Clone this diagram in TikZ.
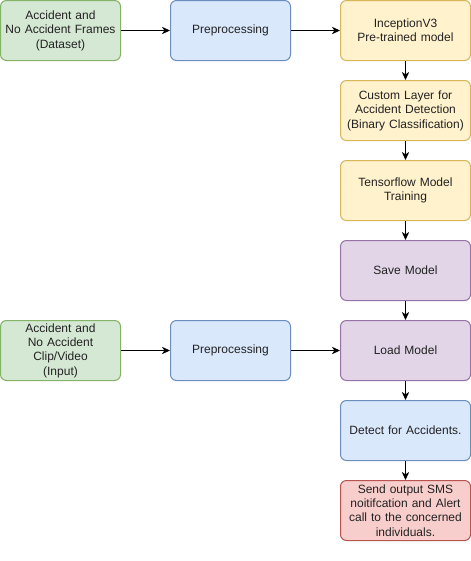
\documentclass[tikz,border=0pt]{standalone}
\usepackage{fontspec}
\setmainfont{Liberation Sans}
\usetikzlibrary{arrows.meta}
\definecolor{gfill}{HTML}{D5E8D4}\definecolor{gline}{HTML}{82B366}
\definecolor{bfill}{HTML}{DAE8FC}\definecolor{bline}{HTML}{6C8EBF}
\definecolor{yfill}{HTML}{FFF2CC}\definecolor{yline}{HTML}{D6B656}
\definecolor{pfill}{HTML}{E1D5E7}\definecolor{pline}{HTML}{9673A6}
\definecolor{rfill}{HTML}{F8CECC}\definecolor{rline}{HTML}{B85450}
\definecolor{txt}{HTML}{222222}
\tikzset{
  box/.style={draw, rounded corners=4.5pt, line width=0.75pt, align=center, text=txt,
    font=\fontsize{9}{10.8}\selectfont, minimum height=45pt, inner sep=1pt},
  lbox/.style={box, minimum width=90pt, text width=88pt},
  rbox/.style={box, minimum width=97.5pt, text width=95pt},
  green/.style={fill=gfill, draw=gline},
  blue/.style={fill=bfill, draw=bline},
  yellow/.style={fill=yfill, draw=yline},
  purple/.style={fill=pfill, draw=pline},
  red/.style={fill=rfill, draw=rline},
  arr/.style={-{Stealth[length=6pt,width=5.5pt,inset=1.8pt]}, line width=0.75pt}
}
\begin{document}
\begin{tikzpicture}[x=0.75pt,y=-0.75pt]
\useasboundingbox (0,0) rectangle (471,561);
\node[lbox,green] (d1) at (60.5,30.5) {Accident and\\No Accident Frames\\(Dataset)};
\node[lbox,blue] (p1) at (230.5,30.5) {Preprocessing};
\node[rbox,yellow] (inc) at (405.5,30.5) {InceptionV3\\Pre-trained model};
\node[rbox,yellow] (cus) at (405.5,110.5) {Custom Layer for\\Accident Detection\\(Binary Classification)};
\node[rbox,yellow] (tf) at (405.5,190.5) {Tensorflow Model\\Training};
\node[rbox,purple] (save) at (405.5,270.5) {Save Model};
\node[lbox,green] (d2) at (60.5,350.5) {Accident and\\No Accident\\Clip/Video\\(Input)};
\node[lbox,blue] (p2) at (230.5,350.5) {Preprocessing};
\node[rbox,purple] (load) at (405.5,350.5) {Load Model};
\node[rbox,blue] (det) at (405.5,430.5) {Detect for Accidents.};
\node[rbox,red] (send) at (405.5,510.5) {Send output SMS\\noitifcation and Alert\\call to the concerned\\individuals.};
\draw[arr] (d1) -- (p1);
\draw[arr] (p1) -- (inc);
\draw[arr] (inc) -- (cus);
\draw[arr] (cus) -- (tf);
\draw[arr] (tf) -- (save);
\draw[arr] (save) -- (load);
\draw[arr] (d2) -- (p2);
\draw[arr] (p2) -- (load);
\draw[arr] (load) -- (det);
\draw[arr] (det) -- (send);
\end{tikzpicture}
\end{document}
